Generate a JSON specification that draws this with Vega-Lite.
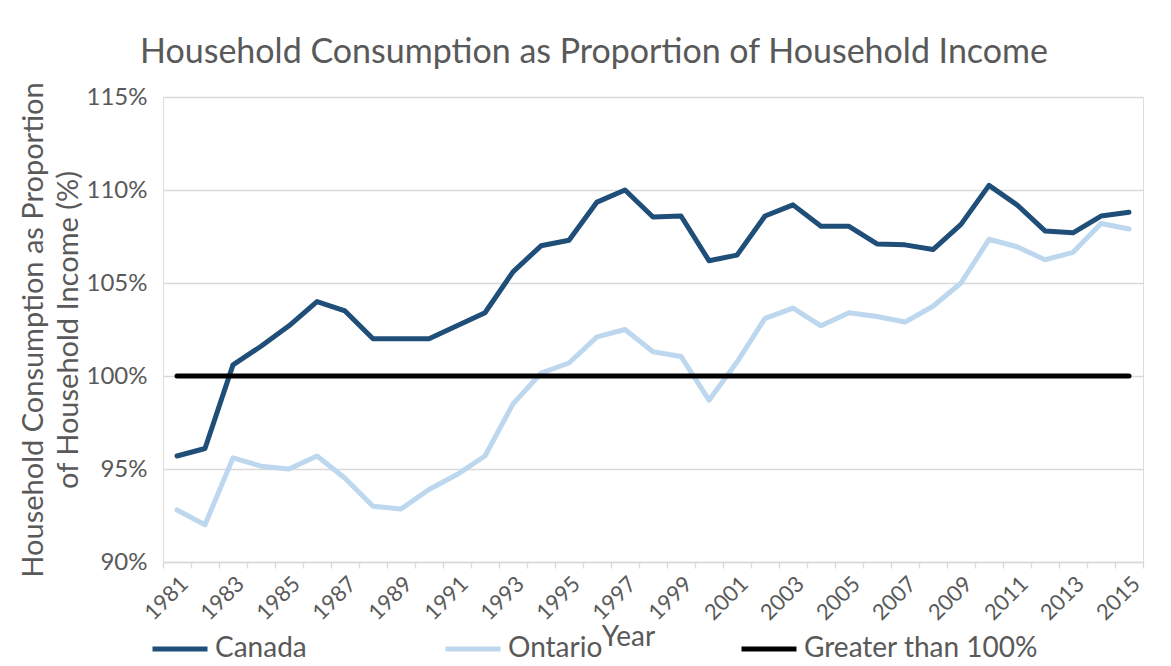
{
  "$schema": "https://vega.github.io/schema/vega-lite/v6.json",
  "width": 980,
  "height": 465,
  "autosize": {"type": "none"},
  "padding": {"left": 163, "top": 97, "right": 28, "bottom": 104},
  "background": "white",
  "title": {
    "text": "Household Consumption as Proportion of Household Income",
    "fontSize": 34,
    "font": "Lato",
    "fontWeight": "normal",
    "color": "#595959",
    "anchor": "middle",
    "dx": -59,
    "offset": 12
  },
  "data": {
    "values": [
      {"Year": 1981, "Series": "Canada", "Value": 95.7},
      {"Year": 1982, "Series": "Canada", "Value": 96.1},
      {"Year": 1983, "Series": "Canada", "Value": 100.6},
      {"Year": 1984, "Series": "Canada", "Value": 101.6},
      {"Year": 1985, "Series": "Canada", "Value": 102.7},
      {"Year": 1986, "Series": "Canada", "Value": 104.0},
      {"Year": 1987, "Series": "Canada", "Value": 103.5},
      {"Year": 1988, "Series": "Canada", "Value": 102.0},
      {"Year": 1989, "Series": "Canada", "Value": 102.0},
      {"Year": 1990, "Series": "Canada", "Value": 102.0},
      {"Year": 1991, "Series": "Canada", "Value": 102.7},
      {"Year": 1992, "Series": "Canada", "Value": 103.4},
      {"Year": 1993, "Series": "Canada", "Value": 105.6},
      {"Year": 1994, "Series": "Canada", "Value": 107.0},
      {"Year": 1995, "Series": "Canada", "Value": 107.3},
      {"Year": 1996, "Series": "Canada", "Value": 109.35},
      {"Year": 1997, "Series": "Canada", "Value": 110.0},
      {"Year": 1998, "Series": "Canada", "Value": 108.55},
      {"Year": 1999, "Series": "Canada", "Value": 108.6},
      {"Year": 2000, "Series": "Canada", "Value": 106.2},
      {"Year": 2001, "Series": "Canada", "Value": 106.5},
      {"Year": 2002, "Series": "Canada", "Value": 108.6},
      {"Year": 2003, "Series": "Canada", "Value": 109.2},
      {"Year": 2004, "Series": "Canada", "Value": 108.05},
      {"Year": 2005, "Series": "Canada", "Value": 108.05},
      {"Year": 2006, "Series": "Canada", "Value": 107.1},
      {"Year": 2007, "Series": "Canada", "Value": 107.05},
      {"Year": 2008, "Series": "Canada", "Value": 106.8},
      {"Year": 2009, "Series": "Canada", "Value": 108.15},
      {"Year": 2010, "Series": "Canada", "Value": 110.25},
      {"Year": 2011, "Series": "Canada", "Value": 109.2},
      {"Year": 2012, "Series": "Canada", "Value": 107.8},
      {"Year": 2013, "Series": "Canada", "Value": 107.7},
      {"Year": 2014, "Series": "Canada", "Value": 108.6},
      {"Year": 2015, "Series": "Canada", "Value": 108.8},
      {"Year": 1981, "Series": "Ontario", "Value": 92.8},
      {"Year": 1982, "Series": "Ontario", "Value": 92.0},
      {"Year": 1983, "Series": "Ontario", "Value": 95.6},
      {"Year": 1984, "Series": "Ontario", "Value": 95.15},
      {"Year": 1985, "Series": "Ontario", "Value": 95.0},
      {"Year": 1986, "Series": "Ontario", "Value": 95.7},
      {"Year": 1987, "Series": "Ontario", "Value": 94.5},
      {"Year": 1988, "Series": "Ontario", "Value": 93.0},
      {"Year": 1989, "Series": "Ontario", "Value": 92.85},
      {"Year": 1990, "Series": "Ontario", "Value": 93.9},
      {"Year": 1991, "Series": "Ontario", "Value": 94.7},
      {"Year": 1992, "Series": "Ontario", "Value": 95.7},
      {"Year": 1993, "Series": "Ontario", "Value": 98.5},
      {"Year": 1994, "Series": "Ontario", "Value": 100.15},
      {"Year": 1995, "Series": "Ontario", "Value": 100.7},
      {"Year": 1996, "Series": "Ontario", "Value": 102.1},
      {"Year": 1997, "Series": "Ontario", "Value": 102.5},
      {"Year": 1998, "Series": "Ontario", "Value": 101.3},
      {"Year": 1999, "Series": "Ontario", "Value": 101.05},
      {"Year": 2000, "Series": "Ontario", "Value": 98.7},
      {"Year": 2001, "Series": "Ontario", "Value": 100.75},
      {"Year": 2002, "Series": "Ontario", "Value": 103.1},
      {"Year": 2003, "Series": "Ontario", "Value": 103.65},
      {"Year": 2004, "Series": "Ontario", "Value": 102.7},
      {"Year": 2005, "Series": "Ontario", "Value": 103.4},
      {"Year": 2006, "Series": "Ontario", "Value": 103.2},
      {"Year": 2007, "Series": "Ontario", "Value": 102.9},
      {"Year": 2008, "Series": "Ontario", "Value": 103.75},
      {"Year": 2009, "Series": "Ontario", "Value": 105.0},
      {"Year": 2010, "Series": "Ontario", "Value": 107.35},
      {"Year": 2011, "Series": "Ontario", "Value": 106.95},
      {"Year": 2012, "Series": "Ontario", "Value": 106.25},
      {"Year": 2013, "Series": "Ontario", "Value": 106.65},
      {"Year": 2014, "Series": "Ontario", "Value": 108.2},
      {"Year": 2015, "Series": "Ontario", "Value": 107.9},
      {"Year": 1981, "Series": "Greater than 100%", "Value": 100},
      {"Year": 1982, "Series": "Greater than 100%", "Value": 100},
      {"Year": 1983, "Series": "Greater than 100%", "Value": 100},
      {"Year": 1984, "Series": "Greater than 100%", "Value": 100},
      {"Year": 1985, "Series": "Greater than 100%", "Value": 100},
      {"Year": 1986, "Series": "Greater than 100%", "Value": 100},
      {"Year": 1987, "Series": "Greater than 100%", "Value": 100},
      {"Year": 1988, "Series": "Greater than 100%", "Value": 100},
      {"Year": 1989, "Series": "Greater than 100%", "Value": 100},
      {"Year": 1990, "Series": "Greater than 100%", "Value": 100},
      {"Year": 1991, "Series": "Greater than 100%", "Value": 100},
      {"Year": 1992, "Series": "Greater than 100%", "Value": 100},
      {"Year": 1993, "Series": "Greater than 100%", "Value": 100},
      {"Year": 1994, "Series": "Greater than 100%", "Value": 100},
      {"Year": 1995, "Series": "Greater than 100%", "Value": 100},
      {"Year": 1996, "Series": "Greater than 100%", "Value": 100},
      {"Year": 1997, "Series": "Greater than 100%", "Value": 100},
      {"Year": 1998, "Series": "Greater than 100%", "Value": 100},
      {"Year": 1999, "Series": "Greater than 100%", "Value": 100},
      {"Year": 2000, "Series": "Greater than 100%", "Value": 100},
      {"Year": 2001, "Series": "Greater than 100%", "Value": 100},
      {"Year": 2002, "Series": "Greater than 100%", "Value": 100},
      {"Year": 2003, "Series": "Greater than 100%", "Value": 100},
      {"Year": 2004, "Series": "Greater than 100%", "Value": 100},
      {"Year": 2005, "Series": "Greater than 100%", "Value": 100},
      {"Year": 2006, "Series": "Greater than 100%", "Value": 100},
      {"Year": 2007, "Series": "Greater than 100%", "Value": 100},
      {"Year": 2008, "Series": "Greater than 100%", "Value": 100},
      {"Year": 2009, "Series": "Greater than 100%", "Value": 100},
      {"Year": 2010, "Series": "Greater than 100%", "Value": 100},
      {"Year": 2011, "Series": "Greater than 100%", "Value": 100},
      {"Year": 2012, "Series": "Greater than 100%", "Value": 100},
      {"Year": 2013, "Series": "Greater than 100%", "Value": 100},
      {"Year": 2014, "Series": "Greater than 100%", "Value": 100},
      {"Year": 2015, "Series": "Greater than 100%", "Value": 100}
    ]
  },
  "mark": {"type": "line", "strokeWidth": 5, "strokeCap": "round", "strokeJoin": "round"},
  "encoding": {
    "x": {
      "field": "Year",
      "type": "ordinal",
      "scale": {"type": "band", "paddingInner": 0, "paddingOuter": 0},
      "axis": {
        "tickBand": "extent",
        "labelAngle": -45,
        "labelExpr": "datum.value % 2 == 1 ? datum.label : ''",
        "labelOverlap": false,
        "labelFont": "Lato",
        "labelFontSize": 22,
        "labelColor": "#595959",
        "labelPadding": 5,
        "domainColor": "#D9D9D9",
        "domainWidth": 1.3,
        "tickColor": "#D9D9D9",
        "tickWidth": 1.3,
        "tickSize": 6,
        "grid": false,
        "title": "Year",
        "titleFont": "Lato",
        "titleFontSize": 28,
        "titleFontWeight": "normal",
        "titleColor": "#595959",
        "titleX": 465,
        "titleY": 83,
        "titleBaseline": "alphabetic"
      }
    },
    "y": {
      "field": "Value",
      "type": "quantitative",
      "scale": {"domain": [90, 115], "nice": false, "zero": false},
      "axis": {
        "values": [90, 95, 100, 105, 110, 115],
        "labelExpr": "datum.value + '%'",
        "labelFont": "Lato",
        "labelFontSize": 24,
        "labelColor": "#595959",
        "labelPadding": 16,
        "domain": false,
        "ticks": false,
        "gridColor": "#D9D9D9",
        "gridWidth": 1.3,
        "title": ["Household Consumption as Proportion", "of Household Income (%)"],
        "titleFont": "Lato",
        "titleFontSize": 29,
        "titleFontWeight": "normal",
        "titleColor": "#595959",
        "titleLineHeight": 35,
        "titlePadding": 3
      }
    },
    "color": {
      "field": "Series",
      "type": "nominal",
      "sort": ["Canada", "Ontario", "Greater than 100%"],
      "scale": {"domain": ["Canada", "Ontario", "Greater than 100%"], "range": ["#1F4E79", "#BDD7EE", "#000000"]},
      "legend": {
        "orient": "none",
        "legendX": -13,
        "legendY": 522,
        "direction": "horizontal",
        "columns": 3,
        "gridAlign": "none",
        "columnPadding": 128,
        "title": null,
        "symbolType": "stroke",
        "symbolSize": 3025,
        "symbolStrokeWidth": 5,
        "labelFont": "Lato",
        "labelFontSize": 28,
        "labelColor": "#595959",
        "labelOffset": 5,
        "labelLimit": 400
      }
    }
  }
}
